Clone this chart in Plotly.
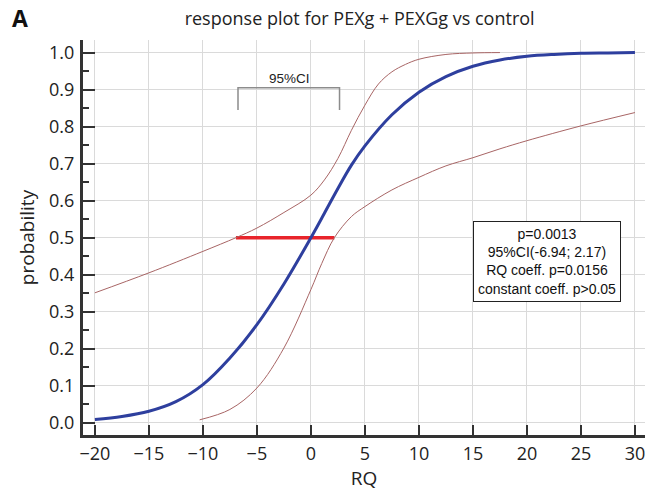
import plotly.graph_objects as go

# Fitted response curve
fit_x = [-20, -17.5, -15, -12.5, -10, -7.5, -5, -2.5, 0, 1.25, 2.5, 3.75, 5, 7.5, 10, 12.5, 15, 17.5, 20, 22.5, 25, 27.5, 30]
fit_p = [0.009, 0.017, 0.031, 0.057, 0.103, 0.175, 0.265, 0.375, 0.50, 0.566, 0.633, 0.696, 0.748, 0.832, 0.893, 0.935, 0.963, 0.980, 0.990, 0.995, 0.998, 0.999, 1.0]

# Upper confidence band
upper_x = [-20, -15, -10, -6.94, -5, -2.5, 0, 1.25, 2.5, 3.75, 5, 6.25, 7.5, 8.75, 10, 12.5, 15, 17.5]
upper_p = [0.351, 0.405, 0.463, 0.50, 0.526, 0.568, 0.615, 0.656, 0.714, 0.79, 0.858, 0.915, 0.948, 0.968, 0.982, 0.995, 0.999, 1.0]

# Lower confidence band
lower_x = [-10.3, -7.5, -5, -2.5, 0, 1, 2.17, 3.75, 5, 7.5, 10, 12.5, 15, 17.5, 20, 25, 30]
lower_p = [0.008, 0.036, 0.094, 0.202, 0.36, 0.43, 0.50, 0.557, 0.584, 0.629, 0.663, 0.694, 0.716, 0.740, 0.762, 0.802, 0.838]

# 95% CI of RQ at p = 0.5
ci_x = [-6.94, 2.17]
ci_p = [0.5, 0.5]

# bracket marking the CI
bracket_x = [-6.75, -6.75, 2.65, 2.65]
bracket_p = [0.845, 0.905, 0.905, 0.845]

x_ticks = [-20, -15, -10, -5, 0, 5, 10, 15, 20, 25, 30]
y_ticks = [0.0, 0.1, 0.2, 0.3, 0.4, 0.5, 0.6, 0.7, 0.8, 0.9, 1.0]

stats_lines = ["p=0.0013", "95%CI(-6.94; 2.17)", "RQ coeff. p=0.0156", "constant coeff. p>0.05"]

FONT = "Open Sans"
AXC = "#333333"

fig = go.Figure()
fig.add_trace(go.Scatter(x=bracket_x, y=bracket_p, mode="lines",
                         line=dict(color="#8c8c8c", width=1.5), hoverinfo="skip"))
fig.add_trace(go.Scatter(x=ci_x, y=ci_p, mode="lines",
                         line=dict(color="#e8242b", width=3.5)))
fig.add_trace(go.Scatter(x=upper_x, y=upper_p, mode="lines", line_shape="spline",
                         line=dict(color="#a86565", width=1)))
fig.add_trace(go.Scatter(x=lower_x, y=lower_p, mode="lines", line_shape="spline",
                         line=dict(color="#a86565", width=1)))
fig.add_trace(go.Scatter(x=fit_x, y=fit_p, mode="lines", line_shape="spline",
                         line=dict(color="#2e3f9e", width=3, smoothing=1)))

fig.add_annotation(x=-1.94, y=0.905, xref="x", yref="y", text="95%CI", showarrow=False,
                   yanchor="bottom", yshift=0,
                   font=dict(family="Arial", size=13.5, color="#222"))
fig.add_annotation(x=21.9, y=0.437, xref="x", yref="y", text="<br>".join(stats_lines),
                   showarrow=False, align="center", xanchor="center", yanchor="middle",
                   bordercolor="#222", borderwidth=1, borderpad=4, bgcolor="white",
                   font=dict(family="Arial", size=14, color="#111"))
fig.add_annotation(x=-0.13, y=1.056, xref="paper", yref="paper", text="<b>A</b>", showarrow=False,
                   xanchor="left", yanchor="middle", font=dict(family=FONT, size=23, color="#111"))

fig.update_layout(
    width=648, height=495,
    margin=dict(l=83, r=3, t=40, b=60),
    plot_bgcolor="white", paper_bgcolor="white",
    showlegend=False,
    title=dict(text="response plot for PEXg + PEXGg vs control", x=0.555, xanchor="center",
               y=0.963, yanchor="middle", font=dict(family=FONT, size=18, color="#222")),
    font=dict(family=FONT, color="#222"),
)

fig.update_xaxes(
    range=[-21.1, 30.93], tickvals=x_ticks, ticktext=["\u2212" + str(-v) if v < 0 else str(v) for v in x_ticks],
    showgrid=True, gridcolor="#dadada", gridwidth=1, zeroline=False,
    showline=True, linecolor=AXC, linewidth=3,
    ticks="inside", ticklen=10, tickwidth=2, tickcolor=AXC, ticklabelstandoff=0,
    tickfont=dict(family=FONT, size=18, color="#222"),
    title=dict(text="RQ", font=dict(family=FONT, size=19, color="#222"), standoff=3),
)
fig.update_yaxes(
    range=[-0.033, 1.034], tickvals=y_ticks, ticktext=[f"{v:.1f}" for v in y_ticks],
    showgrid=True, gridcolor="#dadada", gridwidth=1, zeroline=False,
    showline=True, linecolor=AXC, linewidth=3,
    ticks="inside", ticklen=12, tickwidth=2, tickcolor=AXC, ticklabelstandoff=2,
    minor=dict(dtick=0.05, tick0=0, ticks="inside", ticklen=6, tickwidth=1.5, tickcolor=AXC, showgrid=False),
    tickfont=dict(family=FONT, size=18, color="#222"),
    title=dict(text="probability", font=dict(family=FONT, size=19, color="#222"), standoff=10),
)

fig.write_html("out.html")
